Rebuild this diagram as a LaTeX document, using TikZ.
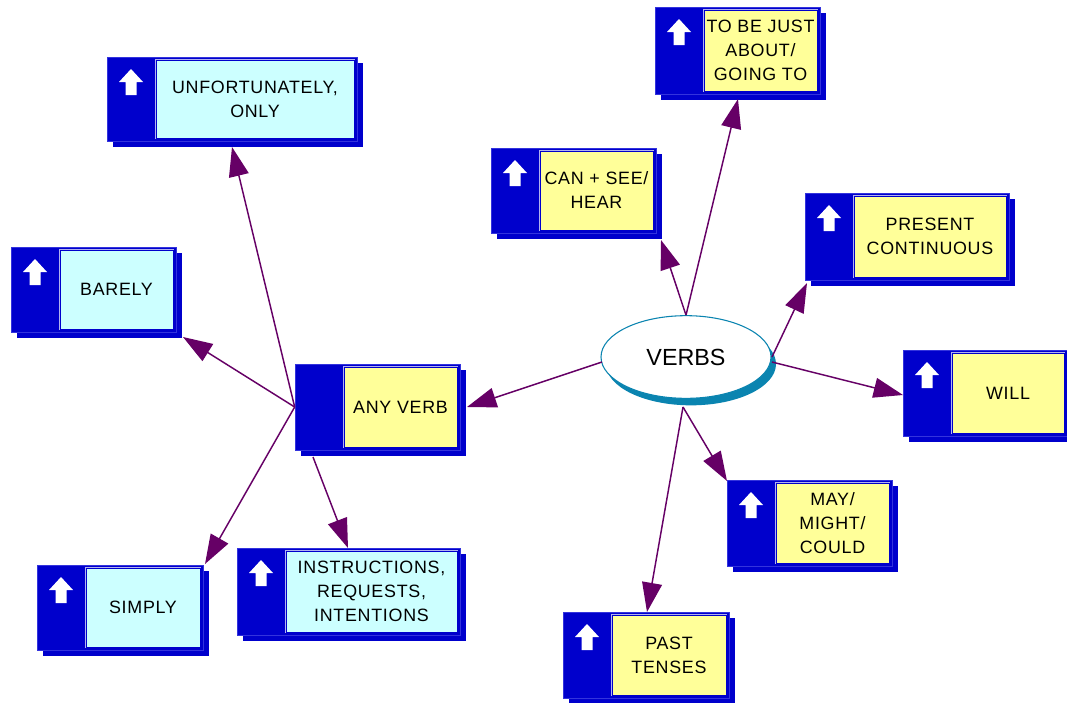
\documentclass[tikz,border=0pt]{standalone}
\usepackage{fontspec}
\setmainfont{Liberation Sans}
\newfontfamily\boxfont{Liberation Sans}[LetterSpace=4]
\usetikzlibrary{arrows.meta,shapes.geometric,fit,calc}
\definecolor{boxblue}{HTML}{0000CC}
\definecolor{edgeblue}{HTML}{3333DD}
\definecolor{panelcyan}{HTML}{CCFFFF}
\definecolor{panelyellow}{HTML}{FFFF99}
\definecolor{linkpurple}{HTML}{660066}
\definecolor{ovalteal}{HTML}{0A84B0}
\tikzset{
  boxtext/.style={align=center, inner sep=0pt, text=black, font=\boxfont\fontsize{13.4}{18}\selectfont},
  conn/.style={draw=linkpurple, line width=1.1pt, -{Triangle[length=22pt,width=15pt]}},
}
\newcommand\conceptbox[8]{%
  \fill[boxblue] ($(#2,#3)+(6,6)$) rectangle ($(#4,#5)+(6,6)$);
  \node[fit={(#2,#3)(#4,#5)}, inner sep=0pt, fill=boxblue, draw=edgeblue, line width=0.5pt] (#1) {};
  \coordinate (#1-pnw) at ($(#2,#3)+(48,2)$);
  \coordinate (#1-pse) at ($(#4,#5)+(-2,-2)$);
  \fill[white!70!boxblue] (#1-pnw) rectangle (#1-pse);
  \filldraw[fill=#6, draw=boxblue, line width=0.5pt] ($(#1-pnw)+(0.9,0.9)$) rectangle ($(#1-pse)+(-0.9,-0.9)$);
  \node[boxtext] (#1-text) at ($(#1-pnw)!0.5!(#1-pse)$) {#7};
  \ifnum#8=1 \fill[white] ($(#2,#3)+(24,12)$) -- ++(12,13) -- ++(-6.5,0) -- ++(0,13) -- ++(-11,0) -- ++(0,-13) -- ++(-6.5,0) -- cycle;\fi
}
\begin{document}
\begin{tikzpicture}[x=0.75pt,y=-0.75pt]
\useasboundingbox (0,0) rectangle (1067,703);
\fill[white] (0,0) rectangle (1067,703);

% boxes
\conceptbox{unf}{107}{57}{357}{141}{panelcyan}{UNFORTUNATELY,\\ONLY}{1}
\conceptbox{barely}{11}{247}{176}{332}{panelcyan}{BARELY}{1}
\conceptbox{anyverb}{295}{364}{460}{450}{panelyellow}{ANY VERB}{0}
\conceptbox{simply}{37}{565}{203}{650}{panelcyan}{SIMPLY}{1}
\conceptbox{instr}{237}{548}{460}{635}{panelcyan}{INSTRUCTIONS,\\REQUESTS,\\INTENTIONS}{1}
\conceptbox{can}{491}{148}{656}{233}{panelyellow}{CAN + SEE/\\HEAR}{1}
\conceptbox{tobe}{655}{7}{820}{94}{panelyellow}{TO BE JUST\\ABOUT/\\GOING TO}{1}
\conceptbox{present}{805}{193}{1009}{280}{panelyellow}{PRESENT\\CONTINUOUS}{1}
\conceptbox{will}{903}{350}{1067}{436}{panelyellow}{WILL}{1}
\conceptbox{may}{727}{480}{892}{566}{panelyellow}{MAY/\\MIGHT/\\COULD}{1}
\conceptbox{past}{563}{612}{729}{698}{panelyellow}{PAST\\TENSES}{1}

% central oval
\node[ellipse, fill=ovalteal, inner sep=0pt, minimum width=127.5pt, minimum height=62pt] (verbs-sh) at (691,364) {};
\node[ellipse, fill=white, draw=ovalteal, line width=0.8pt, inner sep=0pt, minimum width=127.5pt, minimum height=62pt, font=\fontsize{17.5}{20}\selectfont] (verbs) at (686,357) {VERBS};

% connector end coordinates
\coordinate (verbs-bot) at (683,407);
\coordinate (instr-out) at (313,457);
\coordinate (unf-in) at (232,147);
\coordinate (barely-in) at (183,337);
\coordinate (simply-in) at (205,564);
\coordinate (instr-in) at (348,548);
\coordinate (anyverb-in) at (467,407);
\coordinate (can-in) at (661,240);
\coordinate (tobe-in) at (738,99);
\coordinate (present-in) at (807,283);
\coordinate (will-in) at (903,395);
\coordinate (may-in) at (727,481);
\coordinate (past-in) at (647,612);
\coordinate (verbs-l) at (602,362);
\coordinate (verbs-r1) at (772,357);
\coordinate (verbs-r2) at (772,362);

% connectors from VERBS
\draw[conn] (verbs-l) -- (anyverb-in);
\draw[conn] (verbs.north) -- (can-in);
\draw[conn] (verbs.north) -- (tobe-in);
\draw[conn] (verbs-r1) -- (present-in);
\draw[conn] (verbs-r2) -- (will-in);
\draw[conn] (verbs-bot) -- (may-in);
\draw[conn] (verbs-bot) -- (past-in);

% connectors from ANY VERB
\draw[conn] (anyverb.west) -- (unf-in);
\draw[conn] (anyverb.west) -- (barely-in);
\draw[conn] (anyverb.west) -- (simply-in);
\draw[conn] (instr-out) -- (instr-in);
\end{tikzpicture}
\end{document}
